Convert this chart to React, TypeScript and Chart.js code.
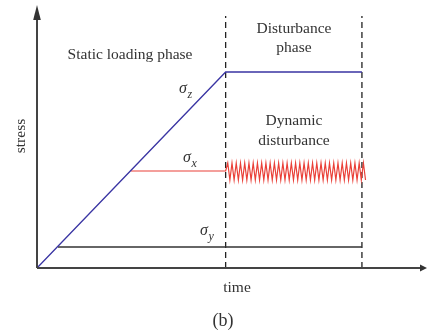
import { useEffect, useRef } from "react";
import { Chart, registerables } from "chart.js";
Chart.register(...registerables);

// time axis in arbitrary units (one unit = half an oscillation period), stress in arbitrary units
const sigmaZTime = [0, 89, 153.3];
const sigmaZStress = [0, 196, 196];

const sigmaXTime = [
  44.3, 89,
  90, 91, 92, 93, 94, 95, 96, 97, 98, 99,
  100, 101, 102, 103, 104, 105, 106, 107, 108, 109,
  110, 111, 112, 113, 114, 115, 116, 117, 118, 119,
  120, 121, 122, 123, 124, 125, 126, 127, 128, 129,
  130, 131, 132, 133, 134, 135, 136, 137, 138, 139,
  140, 141, 142, 143, 144, 145, 146, 147, 148, 149,
  150, 151, 152, 153, 154, 155,
];
const sigmaXStress = [
  97, 97,
  105, 88, 105, 88, 105, 88, 105, 88, 105, 88,
  105, 88, 105, 88, 105, 88, 105, 88, 105, 88,
  105, 88, 105, 88, 105, 88, 105, 88, 105, 88,
  105, 88, 105, 88, 105, 88, 105, 88, 105, 88,
  105, 88, 105, 88, 105, 88, 105, 88, 105, 88,
  105, 88, 105, 88, 105, 88, 105, 88, 105, 88,
  105, 88, 105, 88, 105, 88,
];

const sigmaYTime = [9.9, 153.3];
const sigmaYStress = [21, 21];

const phaseBoundaries = [89, 153.3];
const boundaryStress = [0, 252];

const xMax = 184;
const yMax = 263;

const zip = (xs: number[], ys: number[]) => xs.map((x, i) => ({ x, y: ys[i] }));

const SERIF = '"Liberation Serif", "DejaVu Serif", serif';

const decorPlugin = {
  id: "decor",
  afterDraw(chart: any) {
    const ctx = chart.ctx as CanvasRenderingContext2D;
    const xs = chart.scales.x;
    const ys = chart.scales.y;
    const x0 = xs.getPixelForValue(0);
    const y0 = ys.getPixelForValue(0);
    const xEnd = xs.getPixelForValue(xMax);
    const yTop = ys.getPixelForValue(yMax);
    ctx.save();
    // axes
    ctx.strokeStyle = "#444";
    ctx.fillStyle = "#333";
    ctx.lineWidth = 2;
    ctx.beginPath();
    ctx.moveTo(x0, y0);
    ctx.lineTo(x0, yTop + 14);
    ctx.moveTo(x0, y0);
    ctx.lineTo(xEnd - 6, y0);
    ctx.stroke();
    ctx.beginPath();
    ctx.moveTo(x0, yTop);
    ctx.lineTo(x0 - 3.8, yTop + 15);
    ctx.lineTo(x0 + 3.8, yTop + 15);
    ctx.closePath();
    ctx.fill();
    ctx.beginPath();
    ctx.moveTo(xEnd, y0);
    ctx.lineTo(xEnd - 7, y0 - 3.5);
    ctx.lineTo(xEnd - 7, y0 + 3.5);
    ctx.closePath();
    ctx.fill();

    // texts
    ctx.fillStyle = "#333";
    ctx.textAlign = "center";
    ctx.textBaseline = "alphabetic";
    ctx.font = `15.5px ${SERIF}`;
    ctx.fillText("Static loading phase", 130, 59);
    ctx.fillText("Disturbance", 294, 33);
    ctx.fillText("phase", 294, 52);
    ctx.fillText("Dynamic", 294, 125);
    ctx.fillText("disturbance", 294, 145);
    ctx.fillText("time", 237, 292);
    ctx.font = `18px ${SERIF}`;
    ctx.fillText("(b)", 223, 326);

    ctx.font = `15.5px ${SERIF}`;
    ctx.save();
    ctx.translate(25, 136);
    ctx.rotate(-Math.PI / 2);
    ctx.fillText("stress", 0, 0);
    ctx.restore();

    ctx.textAlign = "left";
    const sig = (x: number, y: number, sub: string) => {
      ctx.font = `italic 16px ${SERIF}`;
      ctx.fillText("σ", x, y);
      ctx.font = `italic 12px ${SERIF}`;
      ctx.fillText(sub, x + 8.5, y + 5);
    };
    sig(179, 93, "z");
    sig(183, 162, "x");
    sig(200, 235, "y");
    ctx.restore();
  },
};

export default function App() {
  const ref = useRef<HTMLCanvasElement | null>(null);
  useEffect(() => {
    document.body.style.margin = "0";
    const canvas = ref.current!;
    const dashed = {
      borderColor: "#222",
      borderWidth: 1.3,
      borderDash: [6, 4],
      pointRadius: 0,
      fill: false,
      clip: false as any,
    };
    const chart = new Chart(canvas, {
      type: "line",
      data: {
        datasets: [
          {
            label: "σz",
            data: zip(sigmaZTime, sigmaZStress),
            borderColor: "#3a35a3",
            borderWidth: 1.3,
            pointRadius: 0,
            tension: 0,
            clip: false as any,
          },
          {
            label: "σx",
            data: zip(sigmaXTime, sigmaXStress),
            borderColor: "#ea4038",
            borderWidth: 1.2,
            pointRadius: 0,
            tension: 0,
            clip: false as any,
          },
          {
            label: "σy",
            data: zip(sigmaYTime, sigmaYStress),
            borderColor: "#333",
            borderWidth: 1.3,
            pointRadius: 0,
            tension: 0,
            clip: false as any,
          },
          {
            label: "b1",
            data: zip([phaseBoundaries[0], phaseBoundaries[0]], boundaryStress),
            ...dashed,
          },
          {
            label: "b2",
            data: zip([phaseBoundaries[1], phaseBoundaries[1]], boundaryStress),
            ...dashed,
          },
        ],
      },
      options: {
        responsive: false,
        animation: false,
        layout: { padding: { left: 37, right: 0, top: 5, bottom: 68 } },
        scales: {
          x: { type: "linear", min: 0, max: xMax, display: false },
          y: { type: "linear", min: 0, max: yMax, display: false },
        },
        plugins: {
          legend: { display: false },
          tooltip: { enabled: false },
        },
      },
      plugins: [decorPlugin],
    });
    return () => chart.destroy();
  }, []);
  return (
    <div style={{ width: 427, height: 336, background: "#fff" }}>
      <canvas ref={ref} width={427} height={336} style={{ display: "block" }} />
    </div>
  );
}
